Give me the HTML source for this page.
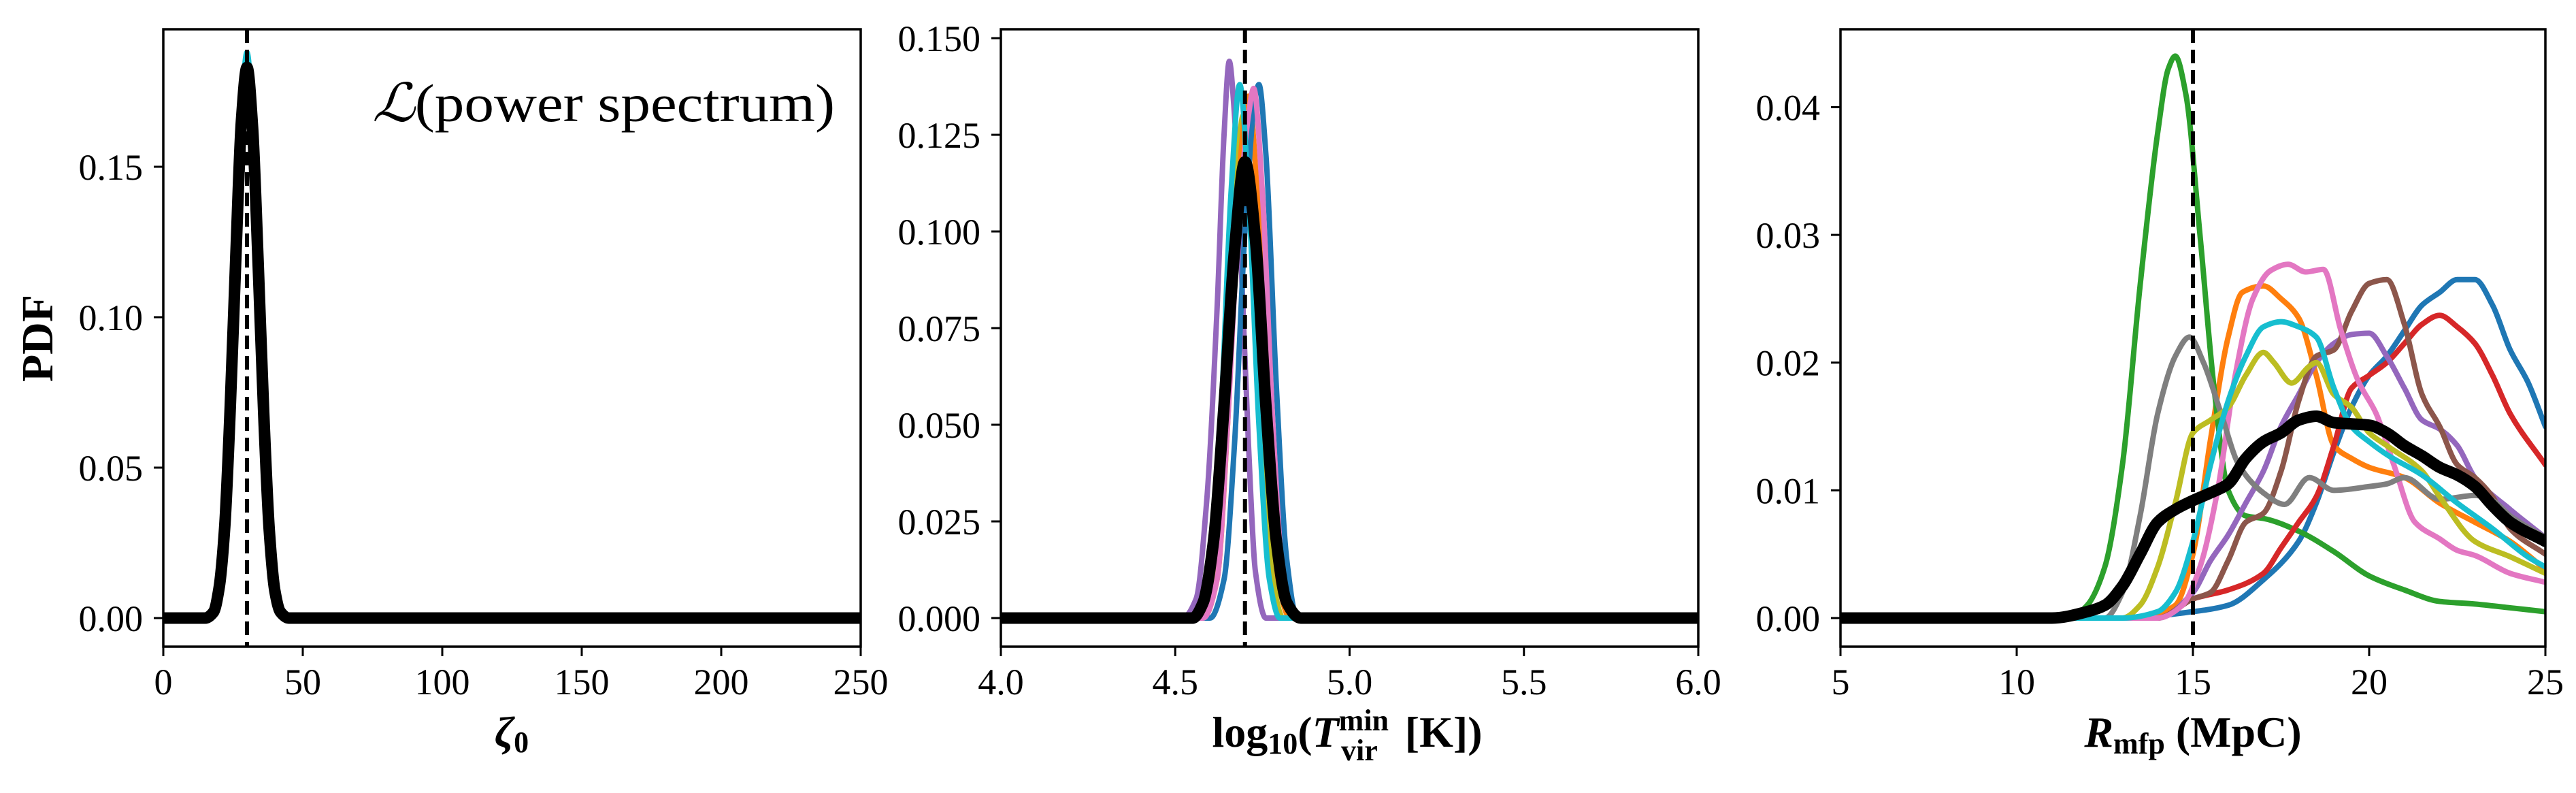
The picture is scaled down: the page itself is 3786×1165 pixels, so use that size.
<!DOCTYPE html>
<html><head><meta charset="utf-8">
<style>
html,body{margin:0;padding:0;background:#fff;}
body{position:relative;width:3786px;height:1165px;overflow:hidden;}
svg{display:block;}
text{font-family:"Liberation Serif","DejaVu Serif",serif;fill:#000;}
</style></head>
<body>
<svg id="chart" width="3786" height="1165" viewBox="0 0 3786 1165" xmlns="http://www.w3.org/2000/svg">
<g id="layer"></g>
</svg>
<script>
// ---------- Panel 1: zeta_0 ----------
const p1Ticks = [0, 50, 100, 150, 200, 250];
const p1TickLabels = ["0", "50", "100", "150", "200", "250"];
const p1YTicks = [0, 0.05, 0.10, 0.15];
const p1YTickLabels = ["0.00", "0.05", "0.10", "0.15"];
const p1Truth = 30;
const p1Cyan = [[0,0],[15,0],[18,0.002],[20,0.01],[22,0.03],[24,0.07],[26,0.122],[28,0.168],[30,0.188],[32,0.166],[34,0.12],[36,0.07],[38,0.03],[40,0.01],[42,0.002],[45,0],[250,0]];
const p1Black = [[0,0],[15,0],[18,0.002],[20,0.01],[22,0.03],[24,0.07],[26,0.12],[28,0.165],[30,0.183],[32,0.163],[34,0.118],[36,0.068],[38,0.029],[40,0.009],[42,0.002],[45,0],[250,0]];

// ---------- Panel 2: log10 Tvir ----------
const p2Ticks = [4.0, 4.5, 5.0, 5.5, 6.0];
const p2TickLabels = ["4.0", "4.5", "5.0", "5.5", "6.0"];
const p2YTicks = [0, 0.025, 0.05, 0.075, 0.10, 0.125, 0.15];
const p2YTickLabels = ["0.000", "0.025", "0.050", "0.075", "0.100", "0.125", "0.150"];
const p2Truth = 4.7;
const p2Purple = [[4.0,0],[4.52,0],[4.56,0.005],[4.59,0.03],[4.62,0.08],[4.64,0.125],[4.655,0.144],[4.67,0.13],[4.69,0.09],[4.71,0.045],[4.73,0.012],[4.76,0],[6.0,0]];
const p2Cyan = [[4.0,0],[4.56,0],[4.60,0.01],[4.63,0.05],[4.66,0.11],[4.685,0.138],[4.71,0.11],[4.74,0.05],[4.77,0.01],[4.80,0],[6.0,0]];
const p2Olive = [[4.0,0],[4.57,0],[4.61,0.01],[4.64,0.05],[4.67,0.105],[4.695,0.13],[4.72,0.105],[4.75,0.05],[4.78,0.01],[4.81,0],[6.0,0]];
const p2Orange = [[4.0,0],[4.58,0],[4.62,0.01],[4.65,0.05],[4.68,0.11],[4.71,0.135],[4.735,0.11],[4.765,0.05],[4.795,0.01],[4.83,0],[6.0,0]];
const p2Pink = [[4.0,0],[4.58,0],[4.62,0.01],[4.65,0.05],[4.68,0.10],[4.71,0.13],[4.725,0.137],[4.75,0.11],[4.78,0.05],[4.81,0.01],[4.84,0],[6.0,0]];
const p2Blue = [[4.0,0],[4.60,0],[4.64,0.01],[4.67,0.045],[4.70,0.10],[4.73,0.135],[4.74,0.138],[4.76,0.12],[4.79,0.06],[4.82,0.015],[4.85,0],[6.0,0]];
const p2Black = [[4.0,0],[4.55,0],[4.58,0.004],[4.61,0.02],[4.64,0.055],[4.67,0.095],[4.70,0.118],[4.73,0.098],[4.76,0.055],[4.79,0.02],[4.82,0.004],[4.86,0],[6.0,0]];

// ---------- Panel 3: R_mfp ----------
const p3Ticks = [5, 10, 15, 20, 25];
const p3TickLabels = ["5", "10", "15", "20", "25"];
const p3YTicks = [0, 0.01, 0.02, 0.03, 0.04];
const p3YTickLabels = ["0.00", "0.01", "0.02", "0.03", "0.04"];
const p3Truth = 15;
const p3Green = [[5,0],[11.5,0],[12,0.001],[12.5,0.004],[13,0.012],[13.5,0.026],[14,0.038],[14.3,0.043],[14.5,0.044],[14.8,0.041],[15.2,0.030],[15.6,0.018],[16,0.010],[16.5,0.008],[17,0.0078],[18,0.0068],[19,0.0052],[20,0.0033],[21,0.0022],[22,0.0013],[23,0.0011],[24,0.0008],[25,0.0005]];
const p3Gray = [[5,0],[12.5,0],[13,0.002],[13.5,0.008],[14,0.016],[14.5,0.0205],[14.9,0.022],[15.3,0.020],[15.8,0.016],[16.3,0.012],[17,0.0098],[17.6,0.0089],[18.3,0.011],[19,0.010],[20,0.0103],[20.5,0.0105],[21,0.011],[22,0.0093],[23,0.0096],[23.5,0.0092],[24,0.008],[25,0.0063]];
const p3Orange = [[5,0],[13.5,0],[14.5,0.001],[15,0.005],[15.5,0.014],[16,0.022],[16.4,0.0255],[17,0.026],[17.5,0.025],[18,0.0235],[18.5,0.019],[19,0.0135],[19.5,0.0125],[20,0.0118],[21,0.011],[22,0.009],[23,0.0075],[24,0.006],[25,0.0038]];
const p3Pink = [[5,0],[14,0],[14.7,0.001],[15.2,0.004],[15.7,0.01],[16.2,0.019],[16.7,0.025],[17.2,0.0272],[17.7,0.0277],[18.2,0.0271],[18.7,0.0273],[19.2,0.0225],[19.7,0.0185],[20.2,0.016],[20.7,0.012],[21.3,0.0075],[22,0.0062],[22.5,0.0053],[23,0.0049],[24,0.0035],[25,0.0028]];
const p3Cyan = [[5,0],[13,0],[14,0.0005],[14.5,0.002],[15,0.006],[15.5,0.012],[16,0.017],[16.5,0.0205],[17,0.0228],[17.5,0.0232],[18,0.0228],[18.5,0.022],[19,0.018],[19.5,0.015],[20,0.0138],[20.5,0.0128],[21.5,0.0112],[22.5,0.009],[23.5,0.007],[24.5,0.0048],[25,0.004]];
const p3Olive = [[5,0],[13,0],[13.5,0.001],[14,0.004],[14.5,0.009],[15,0.0145],[15.5,0.0155],[16,0.0165],[16.5,0.019],[17,0.0208],[17.3,0.020],[17.8,0.0184],[18.3,0.0197],[18.5,0.020],[19,0.0175],[19.5,0.0165],[20,0.0145],[20.5,0.0135],[21.5,0.0115],[22,0.0095],[23,0.006],[24,0.0048],[25,0.0035]];
const p3Purple = [[5,0],[14,0],[15,0.002],[15.5,0.0045],[16,0.0065],[16.5,0.009],[17,0.0115],[17.5,0.015],[18,0.0175],[18.5,0.020],[19,0.0215],[19.5,0.0222],[20,0.0223],[20.5,0.0205],[21,0.018],[21.5,0.0155],[22,0.0148],[22.5,0.0135],[23,0.011],[24,0.0085],[25,0.0063]];
const p3Brown = [[5,0],[14,0],[15,0.0015],[15.5,0.002],[16,0.0045],[16.5,0.0075],[17,0.0082],[17.5,0.0115],[18,0.017],[18.5,0.0205],[19,0.021],[19.5,0.024],[20,0.0262],[20.5,0.0265],[21,0.023],[21.5,0.0175],[22,0.015],[22.5,0.012],[23,0.011],[23.5,0.0095],[24,0.007],[25,0.005]];
const p3Red = [[5,0],[14,0],[15,0.0015],[16,0.0022],[17,0.0035],[17.5,0.0055],[18,0.0075],[18.5,0.0095],[19,0.0135],[19.5,0.018],[20,0.019],[20.5,0.020],[21,0.0215],[21.5,0.023],[22,0.0237],[22.5,0.0228],[23,0.0215],[23.5,0.019],[24,0.016],[25,0.012]];
const p3Blue = [[5,0],[13,0],[15,0.0005],[16,0.001],[17,0.003],[18,0.006],[18.5,0.009],[19,0.013],[19.5,0.0165],[20,0.019],[20.5,0.0205],[21,0.0225],[21.5,0.0245],[22,0.0255],[22.5,0.0265],[23,0.0265],[23.5,0.0245],[24,0.021],[24.5,0.0185],[25,0.015]];
const p3Black = [[5,0],[11,0],[12,0.0005],[12.5,0.001],[13,0.0025],[13.5,0.005],[14,0.0075],[14.5,0.0085],[15,0.0092],[15.5,0.0098],[16,0.0105],[16.5,0.0125],[17,0.0138],[17.5,0.0145],[18,0.0155],[18.5,0.0158],[19,0.0153],[19.5,0.0152],[20,0.0151],[20.5,0.0145],[21,0.0135],[21.5,0.0127],[22,0.0118],[22.5,0.0112],[23,0.0103],[23.5,0.0088],[24,0.0075],[25,0.006]];

const NS = "http://www.w3.org/2000/svg";
const layer = document.getElementById("layer");
function mk(tag, attrs, parent) {
  const e = document.createElementNS(NS, tag);
  for (const k in attrs) e.setAttribute(k, attrs[k]);
  (parent || layer).appendChild(e);
  return e;
}
// monotone cubic (Fritsch-Carlson) in pixel space
function smoothPath(pts) {
  const n = pts.length;
  const dx = [], dy = [], m = [];
  for (let i = 0; i < n - 1; i++) { dx.push(pts[i+1][0]-pts[i][0]); dy.push(pts[i+1][1]-pts[i][1]); m.push(dy[i]/dx[i]); }
  const t = [m[0]];
  for (let i = 1; i < n - 1; i++) {
    if (m[i-1]*m[i] <= 0) t.push(0);
    else { const w1 = 2*dx[i]+dx[i-1], w2 = dx[i]+2*dx[i-1]; t.push((w1+w2)/(w1/m[i-1]+w2/m[i])); }
  }
  t.push(m[n-2]);
  let d = "M" + pts[0][0].toFixed(2) + "," + pts[0][1].toFixed(2);
  for (let i = 0; i < n - 1; i++) {
    const h = dx[i] / 3;
    d += " C" + (pts[i][0]+h).toFixed(2) + "," + (pts[i][1]+t[i]*h).toFixed(2) + " " +
      (pts[i+1][0]-h).toFixed(2) + "," + (pts[i+1][1]-t[i+1]*h).toFixed(2) + " " +
      pts[i+1][0].toFixed(2) + "," + pts[i+1][1].toFixed(2);
  }
  return d;
}
const TOP = 43, BOT = 950;
function panel(cfg) {
  const g = mk("g", {});
  
  
  const sx = v => cfg.L + (v - cfg.xmin) / (cfg.xmax - cfg.xmin) * (cfg.R - cfg.L);
  const sy = v => BOT - (v - cfg.ymin) / (cfg.ymax - cfg.ymin) * (BOT - TOP);
  const clip = mk("clipPath", {id: cfg.name + "-clip"}, g);
  mk("rect", {x: cfg.L, y: TOP, width: cfg.R - cfg.L, height: BOT - TOP}, clip);
  const plot = mk("g", {"clip-path": "url(#" + cfg.name + "-clip)"}, g);
  cfg.series.forEach(s => {
    const p = mk("path", {d: smoothPath(s.data.map(q => [sx(q[0]), sy(q[1])])), fill: "none", stroke: s.color, "stroke-width": s.w, "stroke-linejoin": "round", "stroke-linecap": "round"}, plot);
    
    
  });
  const tl = mk("line", {x1: sx(cfg.truth), x2: sx(cfg.truth), y1: TOP, y2: BOT, stroke: "#000", "stroke-width": 6, "stroke-dasharray": "20,10"}, plot);
  
  
  const fr = mk("rect", {x: cfg.L, y: TOP, width: cfg.R - cfg.L, height: BOT - TOP, fill: "none", stroke: "#000", "stroke-width": 3.5}, g);
  
  
  cfg.xt.forEach((v, i) => {
    const x = sx(v);
    mk("line", {x1: x, x2: x, y1: BOT, y2: BOT + 14, stroke: "#000", "stroke-width": 3}, g);
    const t = mk("text", {x: x, y: 1020, "font-size": 54, "text-anchor": "middle"}, g);
    t.textContent = cfg.xl[i];
    
    
  });
  cfg.yt.forEach((v, i) => {
    const y = sy(v);
    mk("line", {x1: cfg.L, x2: cfg.L - 14, y1: y, y2: y, stroke: "#000", "stroke-width": 3}, g);
    const t = mk("text", {x: cfg.L - 30, y: y + 19, "font-size": 54, "text-anchor": "end"}, g);
    t.textContent = cfg.yl[i];
    
    
  });
  return g;
}
const C = {blue:"#1f77b4", orange:"#ff7f0e", green:"#2ca02c", red:"#d62728", purple:"#9467bd", brown:"#8c564b", pink:"#e377c2", gray:"#7f7f7f", olive:"#bcbd22", cyan:"#17becf"};
panel({name:"zeta-panel", L:240, R:1265, xmin:0, xmax:250, ymin:-0.0095, ymax:0.1957, xt:p1Ticks, xl:p1TickLabels, yt:p1YTicks, yl:p1YTickLabels, truth:p1Truth,
  series:[{name:"zeta-cyan-curve", data:p1Cyan, color:C.cyan, w:8},{name:"zeta-mean-curve", data:p1Black, color:"#000", w:17}]});
panel({name:"tvir-panel", L:1471, R:2496, xmin:4, xmax:6, ymin:-0.0074, ymax:0.1523, xt:p2Ticks, xl:p2TickLabels, yt:p2YTicks, yl:p2YTickLabels, truth:p2Truth,
  series:[{name:"tvir-purple-curve",data:p2Purple,color:C.purple,w:8},{name:"tvir-olive-curve",data:p2Olive,color:C.olive,w:8},{name:"tvir-orange-curve",data:p2Orange,color:C.orange,w:8},{name:"tvir-blue-curve",data:p2Blue,color:C.blue,w:8},{name:"tvir-pink-curve",data:p2Pink,color:C.pink,w:8},{name:"tvir-cyan-curve",data:p2Cyan,color:C.cyan,w:8},{name:"tvir-mean-curve",data:p2Black,color:"#000",w:17}]});
panel({name:"rmfp-panel", L:2705, R:3741, xmin:5, xmax:25, ymin:-0.00224, ymax:0.0461, xt:p3Ticks, xl:p3TickLabels, yt:p3YTicks, yl:p3YTickLabels, truth:p3Truth,
  series:[{name:"rmfp-blue-curve",data:p3Blue,color:C.blue,w:8},{name:"rmfp-orange-curve",data:p3Orange,color:C.orange,w:8},{name:"rmfp-green-curve",data:p3Green,color:C.green,w:8},{name:"rmfp-red-curve",data:p3Red,color:C.red,w:8},{name:"rmfp-purple-curve",data:p3Purple,color:C.purple,w:8},{name:"rmfp-brown-curve",data:p3Brown,color:C.brown,w:8},{name:"rmfp-pink-curve",data:p3Pink,color:C.pink,w:8},{name:"rmfp-gray-curve",data:p3Gray,color:C.gray,w:8},{name:"rmfp-olive-curve",data:p3Olive,color:C.olive,w:8},{name:"rmfp-cyan-curve",data:p3Cyan,color:C.cyan,w:8},{name:"rmfp-mean-curve",data:p3Black,color:"#000",w:17}]});
</script>
<svg style="position:absolute;left:0;top:0" width="3786" height="1165" xmlns="http://www.w3.org/2000/svg">
<text x="0" y="0" font-size="66" font-weight="bold" text-anchor="middle" transform="translate(77,497) rotate(-90)">PDF</text>
<text x="547" y="178" font-size="78" textLength="680" lengthAdjust="spacingAndGlyphs"><tspan font-style="italic">ℒ</tspan>(power spectrum)</text>
<text x="752" y="1097" font-size="64" font-weight="bold" text-anchor="middle"><tspan font-style="italic">ζ</tspan><tspan font-size="44" dy="8">0</tspan></text>
<text x="1980" y="1097" font-size="64" font-weight="bold" text-anchor="middle">log<tspan font-size="44" dy="10">10</tspan><tspan dy="-10">(</tspan><tspan font-style="italic">T</tspan><tspan font-size="44" dy="-24">min</tspan><tspan font-size="44" dx="-70" dy="44">vir</tspan><tspan dy="-20" dx="24"> [K])</tspan></text>
<text x="3223" y="1097" font-size="64" font-weight="bold" text-anchor="middle"><tspan font-style="italic">R</tspan><tspan font-size="44" dy="10">mfp</tspan><tspan dy="-10"> (MpC)</tspan></text>
</svg>
</body></html>
